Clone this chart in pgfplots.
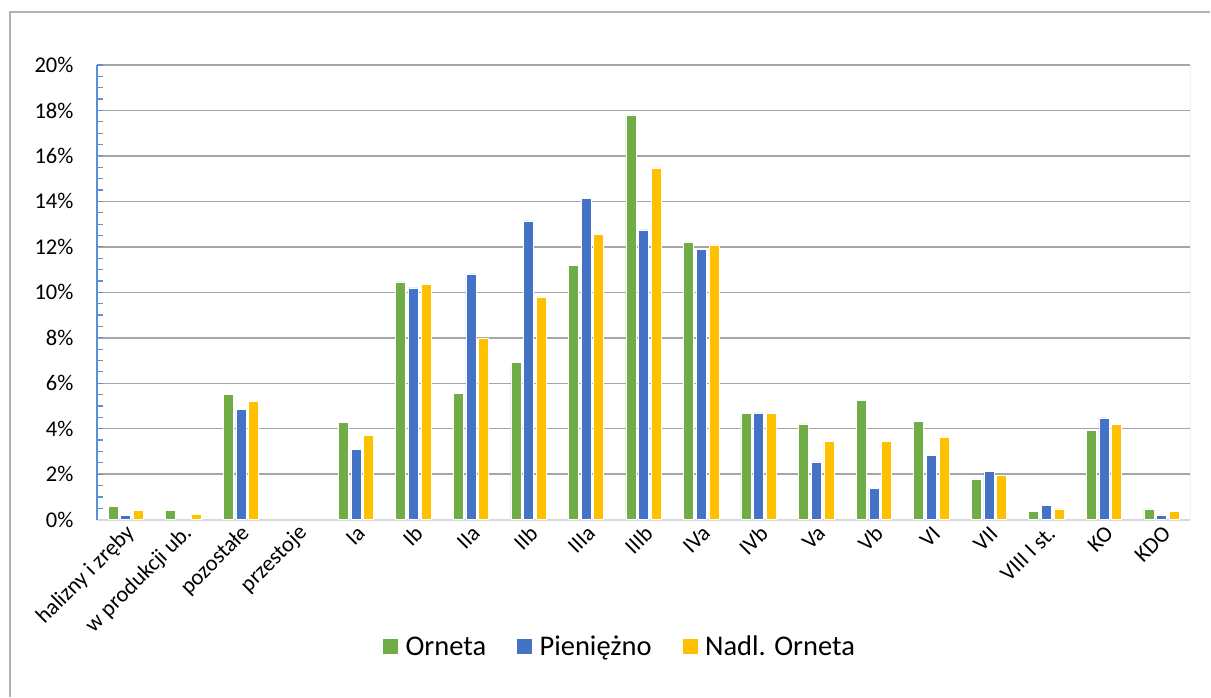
\documentclass[border=0pt]{standalone}
\usepackage{pgfplots}
\pgfplotsset{compat=1.18}
\usepackage{fontspec}
\setmainfont{Carlito}

\definecolor{orneta}{HTML}{70AD47}
\definecolor{pien}{HTML}{4472C4}
\definecolor{nadl}{HTML}{FFC000}
\definecolor{axblue}{HTML}{5B8FD9}
\definecolor{gridgray}{HTML}{A6A6A6}
\definecolor{lightgray}{HTML}{D9D9D9}

\pgfplotsset{
  sq legend/.style={legend image code/.code={\fill[##1] (0pt,-8pt) rectangle (16pt,8pt);}},
}

\begin{document}
\begin{tikzpicture}
\path (0pt,0pt) rectangle (1211pt,697pt);
\draw[gray!60, line width=1.5pt] (10pt,0pt) -- (10pt,685pt) -- (1211pt,685pt);

\begin{axis}[
    at={(97pt,177pt)}, anchor=south west,
    scale only axis,
    width=1094pt, height=455pt,
    xmin=-0.5, xmax=18.5,
    ymin=0, ymax=20,
    ybar=2.7pt, bar width=10pt,
    axis x line=bottom, axis y line=left,
    x axis line style={-, draw=lightgray, line width=2pt},
    y axis line style={-, draw=axblue, line width=1.5pt},
    xtick={0,...,18},
    xticklabels={halizny i zręby, w produkcji ub., pozostałe, przestoje, Ia, Ib, IIa, IIb, IIIa, IIIb, IVa, IVb, Va, Vb, VI, VII, VIII I st., KO, KDO},
    x tick style={draw=none},
    xticklabel style={rotate=45, anchor=east, font=\fontsize{22.5}{25}\selectfont, yshift=-11pt, xshift=0pt},
    ytick={0,2,...,20},
    yticklabel={\pgfmathprintnumber[assume math mode=true]{\tick}\%},
    yticklabel style={font=\fontsize{22.5}{25}\selectfont, xshift=-20pt},
    minor y tick num=3,
    tick align=inside,
    y tick style={draw=axblue, line width=1.2pt},
    major tick length=6pt, minor tick length=6pt,
    ymajorgrids,
    major grid style={draw=gridgray, line width=1.5pt},
    legend style={at={(0.478,-0.279)}, anchor=center, draw=none,
        font=\fontsize{28.5}{32}\selectfont,
        /tikz/every odd column/.append style={column sep=5pt},
        /tikz/every even column/.append style={column sep=28pt}},
    legend columns=3,
]
\addplot[fill=orneta, draw=white, line width=0.5pt, sq legend] coordinates {
  (0,0.57) (1,0.40) (2,5.50) (4,4.27) (5,10.46) (6,5.56) (7,6.92) (8,11.20)
  (9,17.80) (10,12.22) (11,4.66) (12,4.21) (13,5.24) (14,4.34) (15,1.79)
  (16,0.37) (17,3.92) (18,0.48)
};
\addlegendentry{Orneta}
\addplot[fill=pien, draw=white, line width=0.5pt, sq legend] coordinates {
  (0,0.18) (2,4.85) (4,3.08) (5,10.20) (6,10.81) (7,13.14) (8,14.12)
  (9,12.75) (10,11.88) (11,4.70) (12,2.54) (13,1.37) (14,2.82) (15,2.11)
  (16,0.64) (17,4.48) (18,0.18)
};
\addlegendentry{Pieniężno}
\addplot[fill=nadl, draw=white, line width=0.5pt, sq legend] coordinates {
  (0,0.40) (1,0.26) (2,5.20) (4,3.72) (5,10.34) (6,8.00) (7,9.80) (8,12.54)
  (9,15.47) (10,12.09) (11,4.66) (12,3.43) (13,3.44) (14,3.64) (15,1.94)
  (16,0.48) (17,4.18) (18,0.35)
};
\addlegendentry{Nadl. Orneta}
\draw[lightgray, line width=1.5pt] (rel axis cs:1,0) -- (rel axis cs:1,1);
\end{axis}
\end{tikzpicture}
\end{document}
